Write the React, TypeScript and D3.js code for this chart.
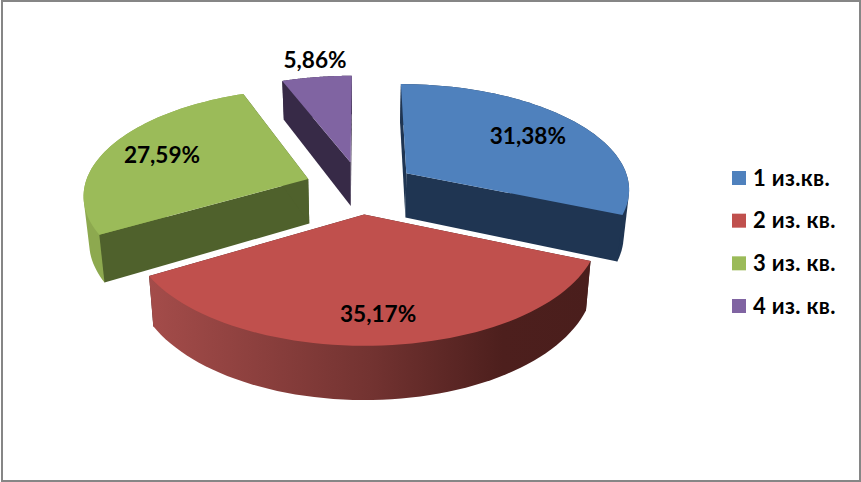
import React, { useEffect, useRef } from 'react';
import * as d3 from 'd3';

const categories = ['1 из.кв.', '2 из. кв.', '3 из. кв.', '4 из. кв.'];
const shares = [31.38, 35.17, 27.59, 5.86];

const topColors = ['#4F81BD', '#C0504D', '#9BBB59', '#8064A2'];
const wallColors = ['#1F3552', '#4A1E1C', '#4F612C', '#372A47'];
const rimStops = [
    ['#1F3552', '#1F3552'],
    ['#A44C4A', '#4A1E1C'],
    ['#8DA94F', '#8DA94F'],
    ['#372A47', '#372A47'],
];
// how far along the slice radius each label sits, and a small sideways nudge
const labelRadii = [0.705, 0.786, 0.725, 1.226];
const labelNudge = [1, 0, -1, 5];

const W = 861;
const H = 482;
const cx = 360.5;
const cy = 187.5;
const radiusX = 224;
const radiusY = 105;
const perspective = 0.137;
const explode = 0.25;
const depth = 45;
const taper = 0.98;

type Point = [number, number];

// plane coords -> screen, near side of the pie is bigger
const project = (px: number, pz: number): Point => {
    const s = 1 / (1 + perspective * pz);
    return [cx + radiusX * px * s, cy - radiusY * pz * s];
};

const lower = (px: number, pz: number): Point => {
    const s = 1 / (1 + perspective * pz);
    const [x, y] = project(px, pz);
    return [cx + (x - cx) * taper, y + depth * s];
};

const App: React.FC = () => {
    const ref = useRef<SVGSVGElement>(null);

    useEffect(() => {
        if (!ref.current) return;
        const svg = d3.select(ref.current);
        svg.selectAll('*').remove();

        svg.append('rect')
            .attr('x', 2)
            .attr('y', 1)
            .attr('width', W - 3)
            .attr('height', H - 2)
            .attr('fill', '#fff')
            .attr('stroke', '#868686')
            .attr('stroke-width', 2);

        const pie = d3.pie<number>().sort(null).value((d) => d);
        const arcs = pie(shares);
        const line = d3.line<Point>();
        const defs = svg.append('defs');
        const comma = d3.formatLocale({ decimal: ',', thousands: ' ', grouping: [3], currency: ['', ''] }).format('.2f');

        const slices = arcs.map((a, i) => {
            const mid = (a.startAngle + a.endAngle) / 2;
            const ox = explode * Math.sin(mid);
            const oz = explode * Math.cos(mid);
            const steps = d3.range(0, 61).map((k) => a.startAngle + ((a.endAngle - a.startAngle) * k) / 60);
            const rimPlane = steps.map((t) => [ox + Math.sin(t), oz + Math.cos(t)] as Point);
            return { i, mid, ox, oz, rimPlane };
        });

        // back slices first so the near ones paint over them
        const order = [3, 0, 2, 1];
        order.forEach((idx) => {
            const { i, mid, ox, oz, rimPlane } = slices[idx];
            const topRim = rimPlane.map(([x, z]) => project(x, z));
            const bottomRim = rimPlane.map(([x, z]) => lower(x, z));
            const apexTop = project(ox, oz);
            const apexBottom = lower(ox, oz);

            const xs = topRim.map((p) => p[0]);
            const grad = defs
                .append('linearGradient')
                .attr('id', `rim${i}`)
                .attr('gradientUnits', 'userSpaceOnUse')
                .attr('x1', d3.min(xs)!)
                .attr('x2', d3.max(xs)!)
                .attr('y1', 0)
                .attr('y2', 0);
            const rimColor = d3.interpolateRgb(rimStops[i][0], rimStops[i][1]);
            [0, 0.5, 0.8, 1].forEach((o) => {
                const t = o === 0.5 ? 0.55 : o === 0.8 ? 0.97 : o;
                grad.append('stop').attr('offset', o).attr('stop-color', rimColor(t));
            });

            const g = svg.append('g');
            const drawRim = () => {
                // outer wall, hull so the turn of the rim has a clean silhouette
                g.append('path')
                    .attr('d', line(d3.polygonHull([...topRim, ...bottomRim])!)! + 'Z')
                    .attr('fill', `url(#rim${i})`);
            };
            const drawWalls = () => {
                [0, topRim.length - 1].forEach((end) => {
                    g.append('path')
                        .attr('d', line([apexTop, topRim[end], bottomRim[end], apexBottom])! + 'Z')
                        .attr('fill', wallColors[i]);
                });
            };
            // the slice facing the viewer shows its rim over the radial walls
            if (Math.cos(mid) < -0.5) {
                drawWalls();
                drawRim();
            } else {
                drawRim();
                drawWalls();
            }
            // top face
            g.append('path')
                .attr('d', line([apexTop, ...topRim])! + 'Z')
                .attr('fill', topColors[i]);
        });

        const font = 'Lato, Carlito, "Open Sans", sans-serif';

        slices.forEach(({ i, mid, ox, oz }) => {
            const [x, y] = project(ox + labelRadii[i] * Math.sin(mid), oz + labelRadii[i] * Math.cos(mid));
            svg.append('text')
                .attr('x', x + labelNudge[i])
                .attr('y', y)
                .attr('dy', '.35em')
                .attr('text-anchor', 'middle')
                .style('font-family', font)
                .style('font-weight', 700)
                .style('font-size', '22.6px')
                .attr('fill', '#000')
                .text(`${comma(shares[i])}%`);
        });

        // Легенда
        const legendY = d3.scalePoint<string>().domain(categories).range([178, 306]);
        const legend = svg
            .selectAll('.legend')
            .data(categories)
            .enter()
            .append('g')
            .attr('class', 'legend')
            .attr('transform', (d) => `translate(732,${legendY(d)})`);

        legend
            .append('rect')
            .attr('y', -7)
            .attr('width', 14)
            .attr('height', 14)
            .attr('fill', (d, i) => topColors[i]);

        legend
            .append('text')
            .attr('x', 21)
            .attr('dy', '.35em')
            .style('font-family', font)
            .style('font-weight', 700)
            .style('font-size', '22px')
            .style('letter-spacing', '0.35px')
            .attr('fill', '#000')
            .text((d) => d);
    }, []);

    return <svg ref={ref} width={W} height={H} style={{ position: 'absolute', left: 0, top: 0, display: 'block' }} />;
};

export default App;
